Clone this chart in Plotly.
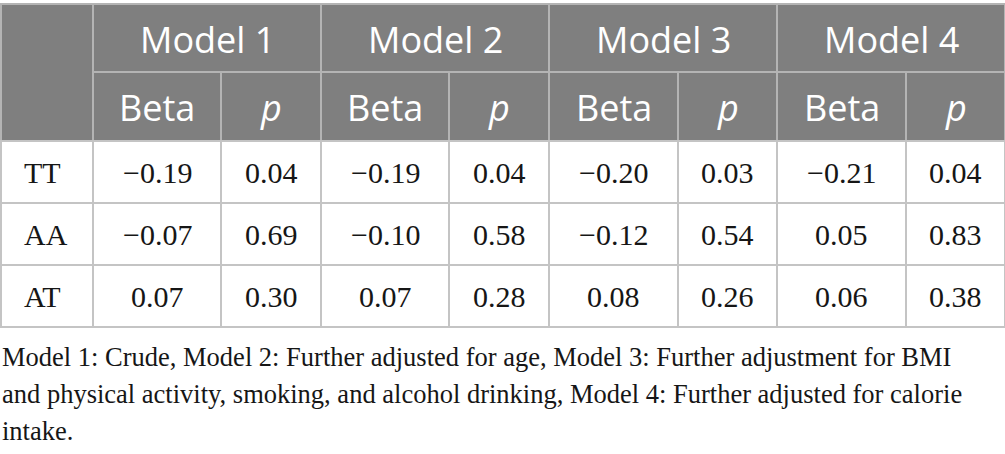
import plotly.graph_objects as go

# ---- table content ----
row_labels = ["TT", "AA", "AT"]
models = ["Model 1", "Model 2", "Model 3", "Model 4"]
sub_headers = ["Beta", "<i>p</i>"]

beta_m1 = [-0.19, -0.07, 0.07]
p_m1 = [0.04, 0.69, 0.30]
beta_m2 = [-0.19, -0.10, 0.07]
p_m2 = [0.04, 0.58, 0.28]
beta_m3 = [-0.20, -0.12, 0.08]
p_m3 = [0.03, 0.54, 0.26]
beta_m4 = [-0.21, 0.05, 0.06]
p_m4 = [0.04, 0.83, 0.38]

footnote_lines = [
    "Model 1: Crude, Model 2: Further adjusted for age, Model 3: Further adjustment for BMI",
    "and physical activity, smoking, and alcohol drinking, Model 4: Further adjusted for calorie",
    "intake.",
]

# ---- layout (pixel units on the hidden axes) ----
W, H = 1005, 454
col_widths = [92, 128, 100, 128, 100, 129, 99, 129, 99]
row_heights = [68, 69, 62, 62, 62]
top = 4
header_bg = "#7f7f7f"
header_line = "#b4b4b4"
body_line = "#c4c4c4"
sans = "Open Sans"
serif = "Liberation Serif"
ink = "#161616"


def fmt(v):
    return f"{v:.2f}".replace("-", "\u2212")


columns = [beta_m1, p_m1, beta_m2, p_m2, beta_m3, p_m3, beta_m4, p_m4]

x_edges = [1]
for w in col_widths:
    x_edges.append(x_edges[-1] + w)
y_edges = [top]
for h in row_heights:
    y_edges.append(y_edges[-1] + h)

shapes = []
annotations = []


def cell(x0, x1, y0, y1, fill, line):
    shapes.append(dict(type="rect", xref="x", yref="y", x0=x0, x1=x1, y0=y0, y1=y1,
                       fillcolor=fill, line=dict(color=line, width=2), layer="below"))


def text(x, y, s, font, size, color, xanchor="center"):
    annotations.append(dict(x=x, y=y, xref="x", yref="y", text=s, showarrow=False,
                            xanchor=xanchor, yanchor="middle",
                            font=dict(family=font, size=size, color=color)))


# header: corner cell spans both header rows
cell(x_edges[0], x_edges[1], y_edges[0], y_edges[2], header_bg, header_line)
for m, name in enumerate(models):
    xa, xb = x_edges[1 + 2 * m], x_edges[3 + 2 * m]
    cell(xa, xb, y_edges[0], y_edges[1], header_bg, header_line)
    text((xa + xb) / 2, (y_edges[0] + y_edges[1]) / 2 + 1, name, sans, 36, "white")
    for k in range(2):
        xa, xb = x_edges[1 + 2 * m + k], x_edges[2 + 2 * m + k]
        cell(xa, xb, y_edges[1], y_edges[2], header_bg, header_line)
        text((xa + xb) / 2, (y_edges[1] + y_edges[2]) / 2 + 1, sub_headers[k], sans, 36, "white")

# body
for r, lab in enumerate(row_labels):
    ya, yb = y_edges[2 + r], y_edges[3 + r]
    yc = (ya + yb) / 2
    cell(x_edges[0], x_edges[1], ya, yb, "white", body_line)
    text(x_edges[0] + 21, yc, lab, serif, 30, ink, xanchor="left")
    for c, vals in enumerate(columns):
        xa, xb = x_edges[1 + c], x_edges[2 + c]
        cell(xa, xb, ya, yb, "white", body_line)
        text((xa + xb) / 2, yc, fmt(vals[r]), serif, 30, ink)

# footnote
for i, line in enumerate(footnote_lines):
    text(0, 357 + i * 37, line, serif, 26.5, ink, xanchor="left")

fig = go.Figure()
fig.update_layout(
    width=W, height=H,
    margin=dict(l=0, r=0, t=0, b=0),
    paper_bgcolor="white", plot_bgcolor="white",
    xaxis=dict(range=[0, W], visible=False, fixedrange=True),
    yaxis=dict(range=[H, 0], visible=False, fixedrange=True),
    shapes=shapes, annotations=annotations, showlegend=False,
)
# drop the browser's default body margin so the figure sits at the window origin
fig.write_html("out.html", config={"displayModeBar": False},
               post_script="document.body.style.margin='0';")
